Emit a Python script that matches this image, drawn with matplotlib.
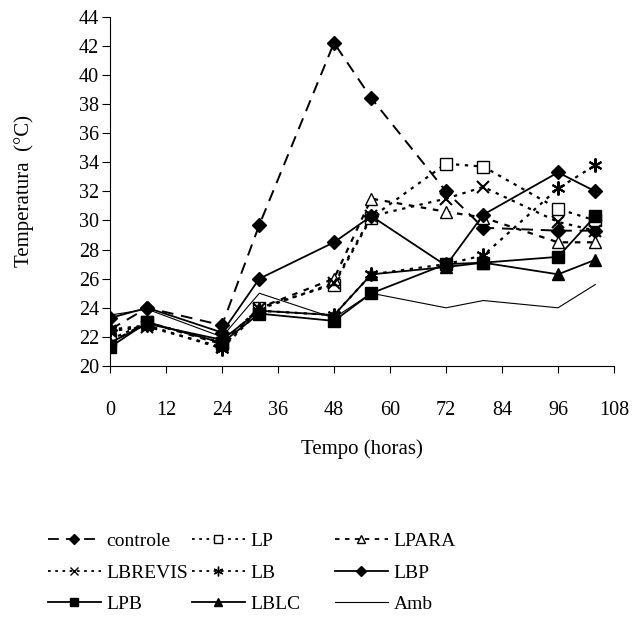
import matplotlib
matplotlib.use("Agg")
import matplotlib.pyplot as plt
from matplotlib.lines import Line2D

plt.rcParams['font.family'] = ['Liberation Serif', 'DejaVu Serif']

hours = [0, 8, 24, 32, 48, 56, 72, 80, 96, 104]
controle = [22.5, 24.0, 22.8, 29.7, 42.2, 38.4, 32.0, 29.5, 29.3, 29.3]
LP       = [21.8, 23.0, 21.6, 24.0, 25.6, 30.2, 33.9, 33.7, 30.8, 30.0]
LPARA    = [21.6, 23.0, 21.5, 24.0, 26.0, 31.5, 30.6, 30.2, 28.5, 28.5]
LBREVIS  = [22.4, 22.7, 21.3, 23.9, 25.7, 30.3, 31.5, 32.3, 29.9, 29.3]
LB       = [22.5, 22.8, 21.2, 23.8, 23.5, 26.3, 27.0, 27.6, 32.2, 33.8]
LBP      = [23.3, 24.0, 22.3, 26.0, 28.5, 30.3, 26.9, 30.4, 33.3, 32.0]
LPB      = [21.3, 23.0, 21.6, 23.6, 23.1, 25.0, 27.0, 27.1, 27.5, 30.3]
LBLC     = [21.6, 22.9, 21.8, 23.8, 23.5, 26.3, 26.8, 27.1, 26.3, 27.3]
Amb      = [23.5, 23.9, 22.0, 25.0, 23.3, 25.0, 24.0, 24.5, 24.0, 25.6]

x_ticks = [0, 12, 24, 36, 48, 60, 72, 84, 96, 108]
y_ticks = [20, 22, 24, 26, 28, 30, 32, 34, 36, 38, 40, 42, 44]

fig = plt.figure(figsize=(6.33, 6.21), dpi=100)
ax = fig.add_axes([0.1738, 0.4106, 0.7962, 0.5625])

dotted = (0, (1.5, 2.5))
series = [
    ("controle", controle, dict(linestyle=(0, (6, 4)), marker='D', mfc='black', ms=7, lw=1.4)),
    ("LP", LP, dict(linestyle=dotted, marker='s', mfc='white', ms=8, lw=1.6)),
    ("LPARA", LPARA, dict(linestyle=(0, (2.5, 3)), marker='^', mfc='white', ms=9, lw=1.6)),
    ("LBREVIS", LBREVIS, dict(linestyle=dotted, marker='x', ms=9, mew=1.5, lw=1.6)),
    ("LB", LB, dict(linestyle=dotted, marker=(6, 2, 0), ms=10, mew=1.5, lw=1.6)),
    ("LBP", LBP, dict(linestyle='-', marker='D', mfc='black', ms=7, lw=1.3)),
    ("LPB", LPB, dict(linestyle='-', marker='s', mfc='black', ms=9, lw=1.3)),
    ("LBLC", LBLC, dict(linestyle='-', marker='^', mfc='black', ms=9, lw=1.3)),
    ("Amb", Amb, dict(linestyle='-', marker=None, lw=0.8)),
]

styles = {}
for name, vals, st in series:
    ax.plot(hours, vals, color='black', mec='black', label=name, **st)
    styles[name] = st

ax.set_xlim(0, 108)
ax.set_ylim(20, 44)
ax.set_xticks(x_ticks)
ax.set_yticks(y_ticks)
ax.spines['top'].set_visible(False)
ax.spines['right'].set_visible(False)
ax.tick_params(axis='x', direction='out', length=5, pad=20, labelsize=14.5)
ax.tick_params(axis='y', direction='out', length=6, pad=2, labelsize=14.5)

ax.set_xlabel("Tempo (horas)", fontsize=15, labelpad=14)
ax.set_ylabel("Temperatura  (°C)", fontsize=15, labelpad=32)


def legend_handle(name):
    st = dict(styles[name])
    ls = st.pop('linestyle')
    lw = 1.3 if ls != '-' else st.pop('lw')
    st.pop('lw', None)
    ms = st.pop('ms', 0) * 0.7
    st.pop('mew', None)
    return Line2D([], [], color='black', linestyle=ls, linewidth=lw, markersize=ms,
                  mec='black', mew=1.0, **st)


columns = [["controle", "LBREVIS", "LPB"], ["LP", "LB", "LBLC"], ["LPARA", "LBP", "Amb"]]
col_x = [48 / 633, 192 / 633, 335 / 633]
for names, cx in zip(columns, col_x):
    leg = fig.legend([legend_handle(n) for n in names], names, loc='center left',
                     bbox_to_anchor=(cx, 0.0775), ncol=1, frameon=False, fontsize=14,
                     handlelength=2.7, handletextpad=0.3, labelspacing=0.72,
                     borderpad=0, borderaxespad=0)

fig.savefig("out.png", dpi=100)
